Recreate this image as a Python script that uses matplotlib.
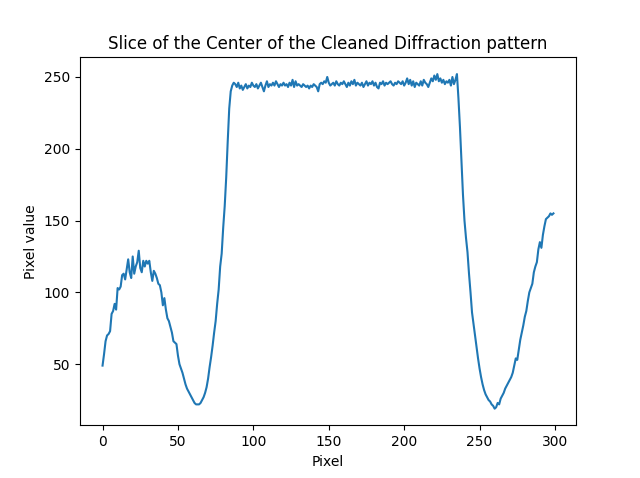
import numpy as np
from matplotlib import pyplot as plt

# left lobe, minimum and rising edge (pixels 0-87)
left = [49, 57, 66, 70, 71, 73, 85, 87, 92, 88,
        103, 102, 104, 112, 113, 109, 116, 123, 114, 110,
        125, 113, 118, 121, 129, 117, 114, 122, 118, 122,
        120, 122, 114, 108, 115, 113, 110, 106, 105, 100,
        91, 96, 88, 82, 80, 76, 72, 66, 65, 64,
        56, 50, 47, 44, 40, 36, 33, 31, 29, 27,
        25, 23, 22, 22, 22, 23, 25, 27, 30, 34,
        40, 48, 55, 63, 72, 80, 92, 102, 118, 127,
        145, 160, 180, 205, 228, 240, 244, 246]

# saturated plateau (pixels 88-235)
plateau = [245, 243, 246, 242, 244, 241, 243, 245, 242, 244, 243, 246,
           244, 243, 245, 242, 244, 246, 243, 240, 244, 247,
           243, 245, 244, 246, 244, 247, 245, 243, 245, 244,
           246, 244, 245, 243, 246, 244, 248, 243, 247, 244,
           245, 244, 243, 245, 244, 243, 244, 242, 244, 243,
           245, 244, 243, 240, 245, 246, 245, 247, 246, 250,
           246, 244, 245, 246, 244, 247, 245, 244, 246, 245,
           247, 245, 243, 246, 244, 247, 245, 248, 244, 246,
           245, 244, 246, 243, 245, 247, 244, 246, 245, 247,
           244, 246, 243, 242, 246, 245, 247, 244, 246, 245,
           246, 247, 245, 244, 246, 245, 247, 246, 245, 247,
           244, 246, 249, 245, 248, 244, 247, 243, 246, 245,
           244, 247, 244, 248, 246, 245, 243, 246, 249, 247,
           251, 248, 252, 247, 249, 246, 248, 245, 247, 246,
           248, 244, 250, 245, 248, 252]

# falling edge, right minimum and rise (pixels 236-299)
right = [235, 215, 192, 168, 150, 138, 128, 113, 100, 86,
         78, 70, 62, 54, 47, 41, 36, 32, 29, 27,
         25, 24, 22, 21, 19, 20, 23, 22, 26, 28,
         30, 33, 35, 37, 39, 41, 44, 49, 54, 53,
         60, 67, 72, 77, 83, 87, 94, 100, 103, 106,
         114, 118, 121, 130, 135, 131, 140, 146, 151, 152,
         153, 155, 154, 155]

profile = np.array(left + plateau + right)
pixels = np.arange(len(profile))

plt.figure(figsize=(6.4, 4.78), dpi=100)
plt.plot(pixels, profile)
plt.title('Slice of the Center of the Cleaned Diffraction pattern')
plt.xlabel('Pixel')
plt.ylabel('Pixel value')
plt.savefig('out.png', dpi=100)
